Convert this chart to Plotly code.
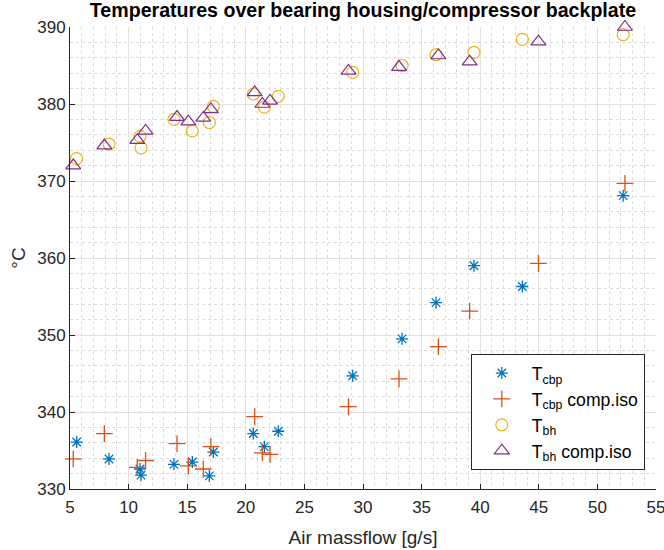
import plotly.graph_objects as go

# Air massflow [g/s] for each operating point
massflow = [5.57, 8.33, 10.97, 11.06, 13.87, 15.44, 17.23, 16.89, 20.64, 21.58,
            22.77, 29.12, 33.33, 36.23, 39.47, 43.60, 52.20]
massflow_iso = [5.28, 7.93, 10.74, 11.45, 14.13, 15.10, 17.02, 16.37, 20.76, 21.41,
                22.07, 28.76, 33.07, 36.43, 39.10, 44.97, 52.35]

# Temperatures [°C]
t_cbp = [336.1, 333.9, 332.6, 331.8, 333.2, 333.5, 334.8, 331.7, 337.2, 335.5,
         337.5, 344.7, 349.5, 354.2, 359.0, 356.3, 368.1]
t_cbp_iso = [333.9, 337.2, 332.8, 333.7, 335.9, 333.0, 335.5, 332.6, 339.4, 334.7,
             334.5, 340.7, 344.3, 348.5, 353.1, 359.3, 369.7]
t_bh = [372.9, 374.8, 375.8, 374.3, 378.0, 376.5, 379.7, 377.6, 381.3, 379.6,
        381.0, 384.1, 385.0, 386.4, 386.7, 388.4, 389.0]
t_bh_iso = [372.0, 374.6, 375.3, 376.5, 378.3, 377.7, 379.3, 378.2, 381.5, 380.0,
            380.4, 384.3, 384.8, 386.3, 385.5, 388.1, 390.0]

x_ticks = [5, 10, 15, 20, 25, 30, 35, 40, 45, 50, 55]
y_ticks = [330, 340, 350, 360, 370, 380, 390]

FONT = "Liberation Sans, Arial, Helvetica, sans-serif"
TXT = "#262626"

fig = go.Figure()
fig.add_trace(go.Scatter(
    x=massflow, y=t_cbp, mode="markers", name="T<sub>cbp</sub>",
    marker=dict(symbol="asterisk-open", size=10, color="#0072BD",
                line=dict(color="#0072BD", width=1.3)),
    cliponaxis=False))
fig.add_trace(go.Scatter(
    x=massflow_iso, y=t_cbp_iso, mode="markers", name="T<sub>cbp</sub> comp.iso",
    marker=dict(symbol="cross-thin-open", size=12, color="#D95319",
                line=dict(color="#D95319", width=1.3)),
    cliponaxis=False))
fig.add_trace(go.Scatter(
    x=massflow, y=t_bh, mode="markers", name="T<sub>bh</sub>",
    marker=dict(symbol="circle-open", size=12, color="#EDB120",
                line=dict(color="#EDB120", width=1.2)),
    cliponaxis=False))
fig.add_trace(go.Scatter(
    x=massflow_iso, y=t_bh_iso, mode="markers", name="T<sub>bh</sub> comp.iso",
    marker=dict(symbol="triangle-up-open", size=13, color="#7E2F8E",
                line=dict(color="#7E2F8E", width=1.2)),
    cliponaxis=False))

fig.update_layout(
    width=664, height=550,
    margin=dict(l=70, r=8, t=27, b=61),
    paper_bgcolor="white", plot_bgcolor="white",
    font=dict(family=FONT, size=17, color=TXT),
    title=dict(text="<b>Temperatures over bearing housing/compressor backplate</b>",
               x=0.5 + (70 - 8) / 2 / 664, xanchor="center", y=0.981, yanchor="middle",
               font=dict(family=FONT, size=19.6, color="black")),
    legend=dict(x=0.684, y=0.292, xanchor="left", yanchor="top",
                bgcolor="white", bordercolor=TXT, borderwidth=1,
                font=dict(family=FONT, size=17.6, color="black"),
                itemwidth=50, tracegroupgap=0),
    showlegend=True,
)

fig.update_xaxes(
    range=[5, 55], tickvals=x_ticks, ticks="inside", ticklen=5, tickcolor=TXT,
    showline=True, linecolor=TXT, linewidth=1, mirror=False,
    showgrid=True, gridcolor="#e1e1e1", gridwidth=1, zeroline=False,
    minor=dict(dtick=1, showgrid=True, gridcolor="#dcdcdc", griddash="dot", gridwidth=1, ticks=""),
    title=dict(text="Air massflow [g/s]", font=dict(size=19, color=TXT), standoff=14),
    tickfont=dict(size=17, color=TXT), ticklabelstandoff=3, ticklabeloverflow="allow",
    automargin=False,
)
fig.update_yaxes(
    range=[330, 390], tickvals=y_ticks, ticks="inside", ticklen=5, tickcolor=TXT,
    showline=True, linecolor=TXT, linewidth=1, mirror=False,
    showgrid=True, gridcolor="#e1e1e1", gridwidth=1, zeroline=False,
    minor=dict(dtick=2, showgrid=True, gridcolor="#dcdcdc", griddash="dot", gridwidth=1, ticks=""),
    title=dict(text="°C", font=dict(size=19, color=TXT), standoff=6),
    tickfont=dict(size=17, color=TXT), ticklabeloverflow="allow",
    automargin=False,
)

fig.write_html("out.html")
